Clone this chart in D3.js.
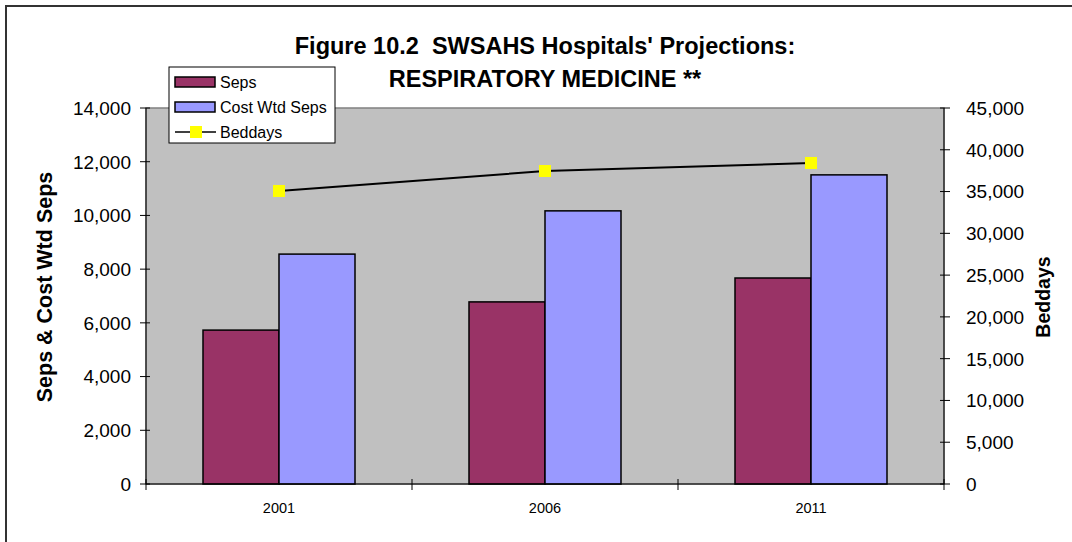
<!DOCTYPE html>
<html>
<head>
<meta charset="utf-8">
<script src="https://cdn.jsdelivr.net/npm/d3@7"></script>
<style>
  body { margin: 0; background: #fff; }
  svg { display: block; font-family: "Liberation Sans", Arial, sans-serif; }
  text { white-space: pre; }
</style>
</head>
<body>
<svg id="chart" width="1072" height="542"></svg>
<script>
const years = ["2001", "2006", "2011"];
const seps = [5730, 6780, 7670];
const costWtdSeps = [8560, 10170, 11510];
const beddays = [35070, 37460, 38420];
const leftTicks = [0, 2000, 4000, 6000, 8000, 10000, 12000, 14000];
const rightTicks = [0, 5000, 10000, 15000, 20000, 25000, 30000, 35000, 40000, 45000];
const titleLines = ["Figure 10.2  SWSAHS Hospitals' Projections:", "RESPIRATORY MEDICINE **"];
const seriesNames = ["Seps", "Cost Wtd Seps", "Beddays"];

const svg = d3.select("#chart");
const W = 1072, H = 542;
const plot = { left: 146, right: 944, top: 108, bottom: 484 };
const fmt = d3.format(",");

svg.append("rect").attr("width", W).attr("height", H).attr("fill", "#fff");
// outer chart frame (extends beyond view on right/bottom)
svg.append("path").attr("d", `M6,${H + 5} V6 H${W + 5}`)
  .attr("fill", "none").attr("stroke", "#333").attr("stroke-width", 2);

const x0 = d3.scaleBand().domain(years).range([plot.left, plot.right]).paddingInner(0).paddingOuter(0);
const x1 = d3.scaleBand().domain(["seps", "cost"]).range([0, x0.bandwidth()]).paddingInner(0).paddingOuter(0.75);
const yL = d3.scaleLinear().domain([0, 14000]).range([plot.bottom, plot.top]);
const yR = d3.scaleLinear().domain([0, 45000]).range([plot.bottom, plot.top]);

// plot area
svg.append("rect").attr("x", plot.left).attr("y", plot.top)
  .attr("width", plot.right - plot.left).attr("height", plot.bottom - plot.top)
  .attr("fill", "#c0c0c0").attr("stroke", "#808080").attr("stroke-width", 1.5);

// bars
const groups = svg.append("g").selectAll("g").data(years).join("g")
  .attr("transform", d => `translate(${x0(d)},0)`);
groups.append("rect")
  .attr("x", x1("seps")).attr("width", x1.bandwidth())
  .attr("y", (d, i) => yL(seps[i])).attr("height", (d, i) => yL(0) - yL(seps[i]))
  .attr("fill", "#993366").attr("stroke", "#000").attr("stroke-width", 1.5);
groups.append("rect")
  .attr("x", x1("cost")).attr("width", x1.bandwidth())
  .attr("y", (d, i) => yL(costWtdSeps[i])).attr("height", (d, i) => yL(0) - yL(costWtdSeps[i]))
  .attr("fill", "#9999ff").attr("stroke", "#000").attr("stroke-width", 1.5);

// axes
const axG = svg.append("g").attr("stroke", "#000").attr("stroke-width", 1);
axG.append("line").attr("x1", plot.left).attr("x2", plot.left).attr("y1", plot.top).attr("y2", plot.bottom);
axG.append("line").attr("x1", plot.right).attr("x2", plot.right).attr("y1", plot.top).attr("y2", plot.bottom);
axG.append("line").attr("x1", plot.left).attr("x2", plot.right).attr("y1", plot.bottom).attr("y2", plot.bottom);
axG.selectAll(".lt").data(leftTicks).join("line")
  .attr("x1", plot.left - 6).attr("x2", plot.left + 4)
  .attr("y1", d => yL(d)).attr("y2", d => yL(d));
axG.selectAll(".rt").data(rightTicks).join("line")
  .attr("x1", plot.right - 4).attr("x2", plot.right + 6)
  .attr("y1", d => yR(d)).attr("y2", d => yR(d));
const xTickPos = years.map(y => x0(y)).concat([plot.right]);
axG.selectAll(".xt").data(xTickPos).join("line")
  .attr("x1", d => d).attr("x2", d => d)
  .attr("y1", plot.bottom - 5).attr("y2", plot.bottom + 6);

svg.append("g").selectAll("text").data(leftTicks).join("text")
  .attr("x", 131).attr("y", d => yL(d)).attr("dy", "0.36em")
  .attr("text-anchor", "end").attr("font-size", 19).text(d => fmt(d));
svg.append("g").selectAll("text").data(rightTicks).join("text")
  .attr("x", 966).attr("y", d => yR(d)).attr("dy", "0.36em")
  .attr("text-anchor", "start").attr("font-size", 19).text(d => fmt(d));
svg.append("g").selectAll("text").data(years).join("text")
  .attr("x", d => x0(d) + x0.bandwidth() / 2).attr("y", 513)
  .attr("text-anchor", "middle").attr("font-size", 14.5).text(d => d);

// axis titles
svg.append("text").attr("transform", "translate(52,287) rotate(-90)")
  .attr("text-anchor", "middle").attr("font-size", 21.5).attr("font-weight", "bold")
  .text("Seps & Cost Wtd Seps");
svg.append("text").attr("transform", "translate(1050,297) rotate(-90)")
  .attr("text-anchor", "middle").attr("font-size", 19.5).attr("font-weight", "bold")
  .text("Beddays");

// line series
const cx = d => x0(d) + x0.bandwidth() / 2;
const line = d3.line().x(d => cx(d.y)).y(d => yR(d.v));
const lineData = years.map((y, i) => ({ y, v: beddays[i] }));
svg.append("path").datum(lineData).attr("d", line)
  .attr("fill", "none").attr("stroke", "#000").attr("stroke-width", 2);
svg.append("g").selectAll("rect").data(lineData).join("rect")
  .attr("x", d => cx(d.y) - 6).attr("y", d => yR(d.v) - 6)
  .attr("width", 12).attr("height", 12).attr("fill", "#ffff00");

// title
svg.append("g").selectAll("text").data(titleLines).join("text")
  .attr("x", 545).attr("y", (d, i) => 54 + i * 33)
  .attr("text-anchor", "middle").attr("font-size", 23.5).attr("font-weight", "bold")
  .text(d => d);

// legend
const lg = svg.append("g").attr("transform", "translate(169,67)");
lg.append("rect").attr("width", 166).attr("height", 76)
  .attr("fill", "#fff").attr("stroke", "#000").attr("stroke-width", 1);
const rowsY = [15, 40, 65];
lg.append("rect").attr("x", 6).attr("y", rowsY[0] - 5).attr("width", 40).attr("height", 10)
  .attr("fill", "#993366").attr("stroke", "#000").attr("stroke-width", 1.5);
lg.append("rect").attr("x", 6).attr("y", rowsY[1] - 5).attr("width", 40).attr("height", 10)
  .attr("fill", "#9999ff").attr("stroke", "#000").attr("stroke-width", 1.5);
lg.append("line").attr("x1", 6).attr("x2", 47).attr("y1", rowsY[2]).attr("y2", rowsY[2])
  .attr("stroke", "#000").attr("stroke-width", 1.5);
lg.append("rect").attr("x", 21).attr("y", rowsY[2] - 6).attr("width", 12).attr("height", 12)
  .attr("fill", "#ffff00");
lg.selectAll("text.lbl").data(seriesNames).join("text")
  .attr("x", 51).attr("y", (d, i) => rowsY[i]).attr("dy", "0.36em")
  .attr("font-size", 16).text(d => d);
</script>
</body>
</html>
